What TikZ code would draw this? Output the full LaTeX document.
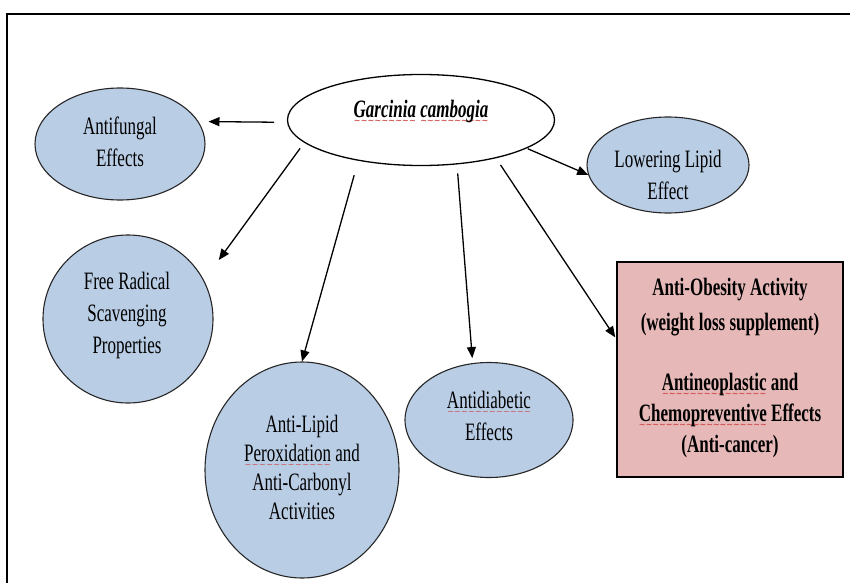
\documentclass[tikz,border=0pt]{standalone}
\usepackage{fontspec}
\newfontfamily\narrowserif[FakeStretch=0.68]{Liberation Serif}
\newfontfamily\wavefont{DejaVu Sans}
\usetikzlibrary{arrows.meta}
\usetikzlibrary{shapes.geometric}
\definecolor{bubbleblue}{HTML}{B9CDE5}
\definecolor{boxpink}{HTML}{E6B9B8}
\definecolor{spellred}{HTML}{D04848}
\newcommand{\diagfont}{\narrowserif\fontsize{25}{32}\selectfont}
\newsavebox{\spellbox}
\newcommand{\spell}[1]{\sbox{\spellbox}{#1}\rlap{\color{spellred}\raisebox{-6pt}[0pt][0pt]{\hbox to \wd\spellbox{\wavefont\fontsize{8}{8}\selectfont\xleaders\hbox{\char"7E}\hfill}}}\usebox{\spellbox}}

\begin{document}
\begin{tikzpicture}[x=1pt, y=-1pt,
  bubble/.style={ellipse, draw=black!85, line width=1.1pt, fill=bubbleblue, inner sep=0pt},
  txt/.style={align=center, inner sep=0pt, font=\diagfont},
  link/.style={line width=1.3pt, -{Triangle[length=11pt,width=9pt]}}]
\useasboundingbox (0,0) rectangle (850,583);
\draw[line width=2.2pt] (7,583) -- (7,14) -- (850,14);

\node[ellipse, draw, line width=1.3pt, fill=white, inner sep=0pt,
  minimum width=267, minimum height=91] (gc) at (421,120) {};
\node[txt, font=\diagfont\bfseries\itshape] (gctext) at (421,111) {\spell{Garcinia} \spell{cambogia}};

\node[bubble, minimum width=170, minimum height=112] (af) at (120,144) {};
\node[txt] (aftext) at (120,142) {Antifungal\\Effects};

\node[bubble, minimum width=162, minimum height=96] (ll) at (668,165) {};
\node[txt] (lltext) at (668,175) {Lowering Lipid\\Effect};

\node[bubble, minimum width=170, minimum height=168] (fr) at (128,319) {};
\node[txt] (frtext) at (127,315) {Free Radical\\Scavenging\\Properties};

\node[bubble, minimum width=194, minimum height=216] (al) at (302,470) {};
\node[txt, font=\narrowserif\fontsize{25}{29}\selectfont] (altext) at (302,467)
  {Anti-Lipid\\\spell{Peroxidation} and\\Anti-Carbonyl\\Activities};

\node[bubble, minimum width=168, minimum height=115] (ad) at (489,420) {};
\node[txt] (adtext) at (489,416) {\spell{Antidiabetic}\\Effects};

\node[rectangle, draw, line width=1.3pt, fill=boxpink, inner sep=0pt,
  minimum width=226, minimum height=215] (box) at (730,369.5) {};
\node[txt, font=\narrowserif\fontsize{25}{31}\selectfont\bfseries] (boxtext) at (730,368)
  {Anti-Obesity Activity\\[4pt](weight loss supplement)\\[29pt]
   \spell{Antineoplastic} and\\\spell{Chemopreventive} Effects\\(Anti-cancer)};

\draw[link, shorten <=13pt, shorten >=10pt] (gc.181) -- (af.16);
\draw[link, shorten <=7pt, shorten >=25pt] (gc.191) -- (fr.27);
\draw[link, shorten <=15pt] (gc.213) -- (al.90);
\draw[link, shorten <=9pt, shorten >=5pt] (gc.309) -- (ad.106);
\draw[link, shorten <=8pt, shorten >=2pt] (gc.333) -- (box.165);
\draw[link, shorten <=1pt] (gc.345) -- (ll.187);
\end{tikzpicture}
\end{document}
